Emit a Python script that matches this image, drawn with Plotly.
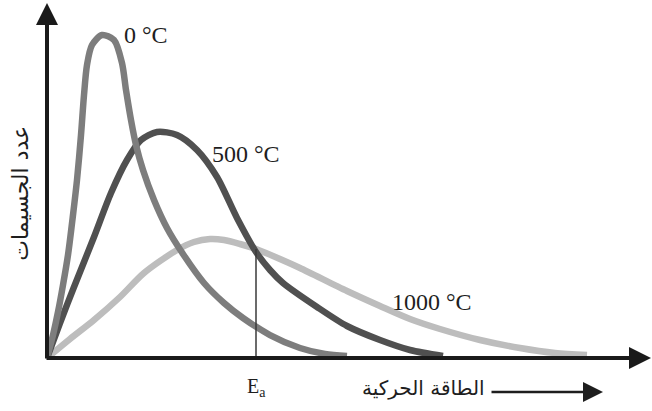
"""Distribution de Maxwell-Boltzmann à trois températures, avec Plotly."""
import plotly.graph_objects as go

# valeurs (énergie cinétique, nombre de particules), unités arbitraires
E_0C = [0, 0.6, 1.1, 1.6, 2.1, 2.6, 3.0, 3.4, 3.7, 4.0, 4.5, 5.5, 6.7, 7.5, 7.9, 8.4, 8.9, 9.6, 10.7,
        12.0, 13.6, 15.7, 17.7, 19.6, 22.3, 25.3, 27.8, 30.0]
N_0C = [0, 2.3, 4.6, 7.3, 10.3, 14.3, 17.8, 22.3, 26.3, 29.3, 31.3, 32.3, 31.8, 29.5, 26.8, 23.8, 21.3, 18.8, 15.8,
        13.0, 10.4, 7.5, 5.5, 4.0, 2.3, 1.0, 0.4, 0.2]

E_500C = [0, 1.3, 2.7, 4.7, 6.4, 8.0, 9.4, 11.0, 13.0, 15.0, 17.0, 19.0, 20.9, 22.3, 23.6,
          27.0, 30.0, 33.3, 36.3, 39.6]
N_500C = [0, 3.5, 7.1, 12.1, 16.5, 19.8, 21.8, 22.6, 22.3, 20.8, 18.1, 14.0, 10.6, 8.8, 7.5,
          5.1, 3.2, 1.8, 0.8, 0.2]

E_1000C = [0, 2.3, 4.7, 7.3, 9.7, 13.0, 14.7, 16.3, 17.7, 19.3, 20.9, 23.3, 25.3, 30.0, 33.3,
           36.3, 39.3, 43.3, 47.3, 50.8, 54.0]
N_1000C = [0, 1.9, 3.8, 6.1, 8.5, 10.8, 11.6, 11.9, 11.8, 11.4, 10.9, 9.9, 9.0, 6.7, 5.2,
           3.9, 2.9, 1.8, 1.0, 0.5, 0.3]

EA = 20.9
EA_TOP = 10.9

CURVES = [
    ("0 °C", E_0C, N_0C, "#7d7d7d"),
    ("500 °C", E_500C, N_500C, "#505050"),
    ("1000 °C", E_1000C, N_1000C, "#bdbdbd"),
]

X_MAX = 60.5
Y_MAX = 35.5

fig = go.Figure()

# ordre de dessin : la courbe claire dessous
for name, xs, ys, color in reversed(CURVES):
    fig.add_trace(go.Scatter(x=xs, y=ys, mode="lines", name=name,
                             line=dict(color=color, width=6.5, shape="spline", smoothing=0.8)))

fig.add_trace(go.Scatter(x=[EA, EA], y=[0, EA_TOP], mode="lines",
                         line=dict(color="#3a3a3a", width=1.5), showlegend=False))

serif = dict(family="Liberation Serif", size=24, color="#1e1e1e")

annotations = [
    # axes fléchés
    dict(x=0, y=Y_MAX, ax=0, ay=-0.2, axref="x", ayref="y", text="", showarrow=True,
         arrowhead=2, arrowsize=1.1, arrowwidth=4, arrowcolor="#1a1a1a"),
    dict(x=X_MAX - 0.1, y=0, ax=-0.2, ay=0, axref="x", ayref="y", text="", showarrow=True,
         arrowhead=2, arrowsize=1.1, arrowwidth=4, arrowcolor="#1a1a1a"),
    # étiquettes des courbes
    dict(x=7.5, y=32.3, text="0 °C", showarrow=False, xanchor="left", font=serif),
    dict(x=16.3, y=20.4, text="500 °C", showarrow=False, xanchor="left", font=serif),
    dict(x=34.3, y=5.6, text="1000 °C", showarrow=False, xanchor="left", font=serif),
    dict(x=EA, y=-0.124, yref="paper", text="E<sub>a</sub>", showarrow=False,
         font=dict(family="Liberation Serif", size=20, color="#1e1e1e")),
    # titres des axes
    dict(x=37.6, y=-0.124, yref="paper", text="الطاقة الحركية", showarrow=False,
         font=dict(family="DejaVu Sans", size=20, color="#1e1e1e")),
    dict(x=55.6, y=-0.096, ax=44.3, ay=-0.096, yref="y domain", axref="x", ayref="y domain", text="",
         showarrow=True, arrowhead=2, arrowsize=1.6, arrowwidth=2.5, arrowcolor="#1e1e1e"),
    dict(x=-0.069, xref="paper", y=16.5, text="عدد الجسيمات", textangle=-90, showarrow=False,
         font=dict(family="DejaVu Sans", size=22, color="#1e1e1e")),
]

fig.update_layout(
    width=652, height=411,
    margin=dict(l=47, r=0, t=3, b=53),
    paper_bgcolor="white", plot_bgcolor="white",
    showlegend=False,
    xaxis=dict(range=[0, X_MAX], visible=False),
    yaxis=dict(range=[0, Y_MAX], visible=False),
    annotations=annotations,
)

fig.write_html("out.html", config={"displayModeBar": False},
               post_script="document.body.style.margin='0';")
